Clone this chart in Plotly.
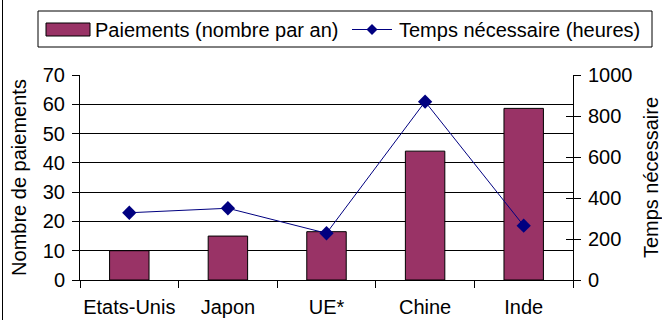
import plotly.graph_objects as go

categories = ["Etats-Unis", "Japon", "UE*", "Chine", "Inde"]
paiements = [10, 15, 16.5, 44, 58.6]
temps = [328, 350, 228, 870, 265]
bar_name = "Paiements (nombre par an)"
line_name = "Temps nécessaire (heures)"
left_title = "Nombre de paiements"
right_title = "Temps nécessaire"

W, H = 662, 320
PL, PR, PT, PB = 80, 573, 75, 280
FONT = "Liberation Sans, Arial, sans-serif"
FS = 20
BAR_COLOR = "#993366"
LINE_COLOR = "#000080"


def px(x):
    return (x - PL) / (PR - PL)


def py(y):
    return (PB - y) / (PB - PT)


fig = go.Figure()
fig.add_trace(go.Bar(
    x=categories, y=paiements, name=bar_name, width=0.4,
    marker=dict(color=BAR_COLOR, line=dict(color="black", width=1)),
    showlegend=False, yaxis="y"))
fig.add_trace(go.Scatter(
    x=categories, y=temps, name=line_name, mode="lines+markers",
    line=dict(color=LINE_COLOR, width=1),
    marker=dict(symbol="diamond", size=11, color=LINE_COLOR),
    showlegend=False, yaxis="y2"))
# invisible trace to show inside ticks on the right axis
fig.add_trace(go.Scatter(x=categories, y=temps, yaxis="y3", mode="none",
                         showlegend=False, hoverinfo="skip"))

fig.update_layout(
    width=W, height=H,
    margin=dict(l=PL, r=W - PR, t=PT, b=H - PB, autoexpand=False),
    paper_bgcolor="white", plot_bgcolor="white",
    font=dict(family=FONT, size=FS, color="black"),
    showlegend=False,
    xaxis=dict(
        type="category", tickson="boundaries", ticks="outside", ticklen=7,
        tickcolor="black", showline=True, linecolor="black", linewidth=1,
        showgrid=False, zeroline=False, tickfont=dict(size=FS), tickangle=0,
        ticklabelstandoff=9, automargin=False, range=[-0.5, 4.5]),
    yaxis=dict(
        range=[0, 70], dtick=10, ticks="outside", ticklen=7, tickcolor="black",
        showline=True, linecolor="black", linewidth=1,
        showgrid=True, gridcolor="black", gridwidth=1, zeroline=False,
        ticklabelstandoff=3, automargin=False,
        title=dict(text=left_title, standoff=10, font=dict(size=FS))),
    yaxis2=dict(
        range=[0, 1000], dtick=200, overlaying="y", side="right",
        ticks="outside", ticklen=7, tickcolor="black",
        showline=True, linecolor="black", linewidth=1,
        showgrid=False, zeroline=False, ticklabelstandoff=3, automargin=False,
        title=dict(text=right_title, standoff=13, font=dict(size=FS))),
    yaxis3=dict(
        range=[0, 1000], dtick=200, overlaying="y", side="right",
        ticks="inside", ticklen=7, tickcolor="black", showticklabels=False,
        showline=False, showgrid=False, zeroline=False, automargin=False),
)

shapes = []
# outer chart border (left edge)
shapes.append(dict(type="line", xref="paper", yref="paper",
                   x0=px(2.5), x1=px(2.5), y0=py(0), y1=py(320),
                   line=dict(color="black", width=1)))
# legend box
shapes.append(dict(type="rect", xref="paper", yref="paper",
                   x0=px(38), x1=px(652), y0=py(11), y1=py(47),
                   line=dict(color="black", width=1), fillcolor="white"))
# bar swatch
shapes.append(dict(type="rect", xref="paper", yref="paper",
                   x0=px(46), x1=px(90), y0=py(23), y1=py(36),
                   line=dict(color="black", width=1), fillcolor=BAR_COLOR))
# line swatch
shapes.append(dict(type="line", xref="paper", yref="paper",
                   x0=px(352), x1=px(392), y0=py(29.5), y1=py(29.5),
                   line=dict(color=LINE_COLOR, width=1)))
cx, cy, d = 372, 29.5, 5.5
path = "M {},{} L {},{} L {},{} L {},{} Z".format(
    px(cx), py(cy - d), px(cx + d), py(cy), px(cx), py(cy + d), px(cx - d), py(cy))
shapes.append(dict(type="path", xref="paper", yref="paper", path=path,
                   fillcolor=LINE_COLOR, line=dict(color=LINE_COLOR, width=0)))
fig.update_layout(shapes=shapes)

fig.add_annotation(x=px(95), y=py(29.5), xref="paper", yref="paper",
                   text=bar_name, showarrow=False, xanchor="left", yanchor="middle",
                   font=dict(size=FS), xshift=-2)
fig.add_annotation(x=px(399), y=py(29.5), xref="paper", yref="paper",
                   text=line_name, showarrow=False, xanchor="left", yanchor="middle",
                   font=dict(size=FS), xshift=-2)

fig.write_html("out.html",
               config={"displayModeBar": False},
               post_script="document.body.style.margin='0';"
                           "document.body.style.overflow='hidden';")
